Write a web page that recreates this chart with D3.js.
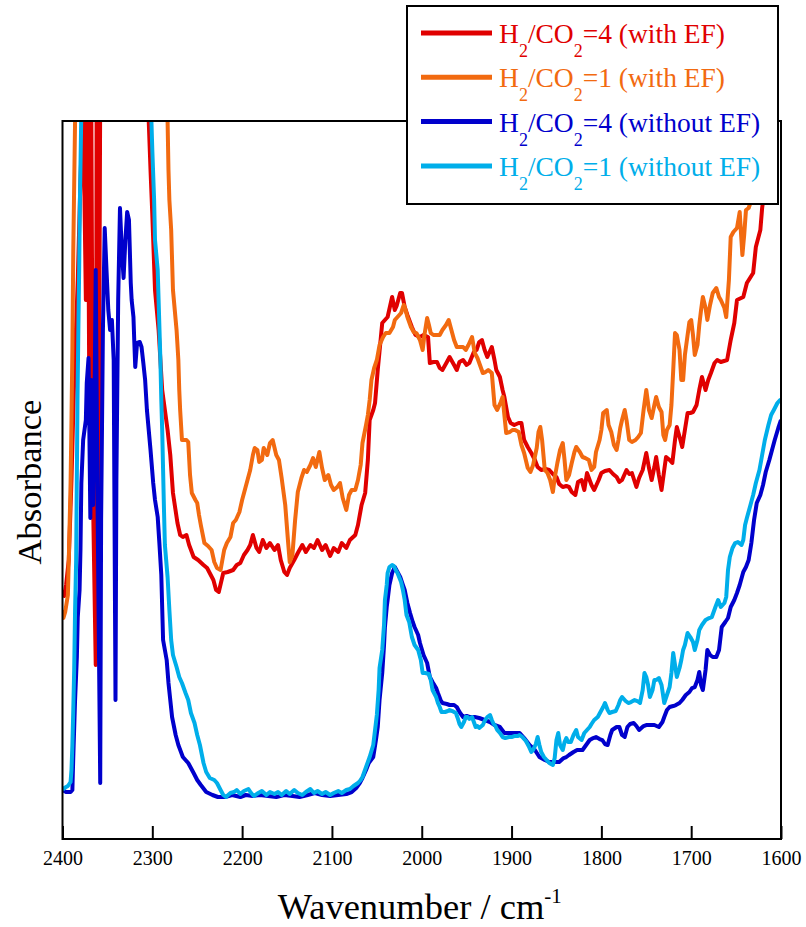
<!DOCTYPE html>
<html>
<head>
<meta charset="utf-8">
<script src="https://cdn.jsdelivr.net/npm/d3@7"></script>
<style>
  html, body { margin: 0; padding: 0; background: #fff; }
  svg { display: block; }
</style>
</head>
<body>
<div id="chart"></div>
<script>
// Wavenumber axis ticks (cm^-1), axis runs high to low
const wavenumberTicks = [2400, 2300, 2200, 2100, 2000, 1900, 1800, 1700, 1600];

// Series labels: ratio and condition
const seriesRatio = ["4", "1", "4", "1"];
const seriesCondition = ["(with EF)", "(with EF)", "(without EF)", "(without EF)"];
const seriesColors = ["#e00000", "#f26a10", "#0000cc", "#00aeea"];

// Spectra as [wavenumber, absorbance (a.u.)]
const specH4EF = [[2400,0.249],[2398,0.243],[2396,0.254],[2393,0.279],[2390,0.359],[2387,0.459],[2383,0.559],[2380,0.659],[2377,0.739],[2374,0.539],[2372,0.749],[2370,0.419],[2368,0.749],[2366,0.339],[2363,0.174],[2362,0.749],[2360,0.279],[2358,0.749],[2357,0.739],[2347,0.749],[2330,0.744],[2313,0.744],[2307,0.734],[2304,0.718],[2302,0.669],[2300,0.624],[2297,0.549],[2293,0.509],[2289,0.449],[2286,0.429],[2283,0.409],[2280,0.384],[2277,0.346],[2272,0.316],[2269,0.304],[2266,0.302],[2262,0.304],[2259,0.294],[2254,0.282],[2249,0.279],[2243,0.274],[2239,0.271],[2232,0.259],[2229,0.249],[2226,0.247],[2221,0.266],[2216,0.267],[2210,0.269],[2206,0.274],[2202,0.276],[2198,0.284],[2194,0.289],[2191,0.294],[2188,0.304],[2184,0.291],[2181,0.287],[2177,0.299],[2173,0.291],[2169,0.296],[2164,0.289],[2160,0.294],[2157,0.279],[2153,0.267],[2150,0.264],[2147,0.271],[2142,0.279],[2138,0.286],[2133,0.294],[2129,0.287],[2124,0.294],[2120,0.291],[2116,0.299],[2111,0.289],[2107,0.294],[2102,0.283],[2098,0.291],[2093,0.287],[2089,0.296],[2084,0.291],[2080,0.299],[2074,0.304],[2071,0.314],[2067,0.334],[2063,0.346],[2060,0.379],[2058,0.419],[2054,0.429],[2052,0.436],[2049,0.469],[2044,0.516],[2041,0.519],[2038,0.522],[2033,0.542],[2030,0.529],[2028,0.533],[2024,0.546],[2022,0.546],[2019,0.532],[2016,0.524],[2011,0.512],[2007,0.504],[2002,0.502],[1998,0.504],[1993,0.502],[1991,0.476],[1987,0.477],[1983,0.477],[1980,0.471],[1977,0.469],[1972,0.477],[1969,0.482],[1964,0.474],[1961,0.469],[1958,0.477],[1954,0.479],[1950,0.474],[1947,0.476],[1942,0.487],[1939,0.489],[1936,0.497],[1933,0.499],[1930,0.489],[1927,0.482],[1922,0.492],[1919,0.479],[1917,0.469],[1913,0.462],[1910,0.449],[1908,0.442],[1904,0.422],[1901,0.416],[1897,0.414],[1892,0.416],[1889,0.416],[1886,0.399],[1882,0.392],[1878,0.386],[1874,0.379],[1871,0.372],[1867,0.369],[1862,0.370],[1858,0.369],[1853,0.364],[1850,0.362],[1847,0.355],[1843,0.352],[1839,0.353],[1836,0.352],[1833,0.347],[1829,0.344],[1826,0.357],[1822,0.359],[1819,0.349],[1816,0.366],[1811,0.354],[1808,0.349],[1803,0.359],[1800,0.366],[1796,0.368],[1791,0.369],[1787,0.365],[1783,0.362],[1780,0.357],[1777,0.359],[1772,0.369],[1769,0.365],[1766,0.366],[1761,0.352],[1758,0.361],[1754,0.369],[1750,0.386],[1747,0.371],[1744,0.359],[1741,0.372],[1739,0.382],[1736,0.364],[1733,0.349],[1730,0.369],[1728,0.382],[1724,0.379],[1721,0.376],[1718,0.399],[1716,0.412],[1712,0.399],[1710,0.392],[1707,0.409],[1704,0.426],[1701,0.426],[1698,0.427],[1694,0.434],[1691,0.449],[1688,0.462],[1684,0.449],[1681,0.459],[1678,0.466],[1674,0.476],[1671,0.479],[1667,0.477],[1660,0.479],[1656,0.499],[1652,0.516],[1649,0.539],[1642,0.542],[1638,0.556],[1631,0.566],[1628,0.592],[1623,0.609],[1621,0.631],[1616,0.664],[1611,0.689],[1607,0.714],[1600,0.739]];

const specH1EF = [[2400,0.229],[2399,0.221],[2397,0.227],[2394,0.244],[2393,0.279],[2391,0.356],[2390,0.419],[2389,0.489],[2388,0.589],[2386,0.718],[2384,0.749],[2358,0.759],[2324,0.759],[2291,0.749],[2286,0.739],[2283,0.718],[2282,0.669],[2281,0.639],[2279,0.609],[2277,0.549],[2273,0.509],[2271,0.479],[2270,0.449],[2269,0.429],[2267,0.399],[2262,0.399],[2260,0.397],[2258,0.364],[2256,0.346],[2252,0.339],[2250,0.336],[2248,0.324],[2246,0.314],[2242,0.296],[2238,0.293],[2234,0.289],[2231,0.277],[2228,0.271],[2224,0.269],[2222,0.279],[2220,0.289],[2217,0.296],[2213,0.302],[2210,0.316],[2207,0.319],[2203,0.327],[2200,0.339],[2197,0.349],[2194,0.359],[2191,0.369],[2188,0.384],[2186,0.391],[2183,0.389],[2181,0.377],[2178,0.379],[2176,0.391],[2172,0.384],[2169,0.396],[2166,0.399],[2162,0.384],[2159,0.379],[2156,0.361],[2152,0.334],[2149,0.299],[2147,0.277],[2144,0.284],[2141,0.319],[2138,0.347],[2134,0.361],[2131,0.369],[2128,0.367],[2124,0.374],[2121,0.381],[2118,0.372],[2114,0.387],[2111,0.371],[2108,0.359],[2104,0.364],[2101,0.354],[2098,0.349],[2094,0.352],[2091,0.356],[2088,0.341],[2084,0.329],[2081,0.344],[2078,0.349],[2074,0.349],[2071,0.359],[2068,0.374],[2066,0.396],[2062,0.414],[2060,0.424],[2058,0.439],[2056,0.459],[2053,0.471],[2050,0.479],[2047,0.494],[2043,0.502],[2040,0.506],[2036,0.506],[2032,0.512],[2030,0.519],[2027,0.522],[2023,0.526],[2020,0.534],[2018,0.529],[2016,0.522],[2012,0.512],[2009,0.507],[2006,0.506],[2002,0.499],[1999,0.489],[1997,0.504],[1994,0.521],[1992,0.514],[1990,0.506],[1987,0.504],[1983,0.504],[1980,0.504],[1977,0.509],[1973,0.514],[1970,0.519],[1967,0.509],[1964,0.499],[1961,0.492],[1958,0.492],[1954,0.492],[1951,0.489],[1948,0.494],[1944,0.502],[1941,0.486],[1938,0.481],[1936,0.476],[1932,0.466],[1929,0.467],[1926,0.469],[1922,0.466],[1919,0.434],[1916,0.429],[1912,0.437],[1910,0.442],[1908,0.424],[1906,0.406],[1902,0.407],[1899,0.409],[1896,0.409],[1892,0.407],[1889,0.394],[1886,0.386],[1882,0.371],[1879,0.367],[1876,0.374],[1872,0.391],[1870,0.407],[1868,0.412],[1866,0.399],[1863,0.369],[1860,0.366],[1857,0.359],[1854,0.347],[1852,0.361],[1849,0.376],[1846,0.389],[1843,0.396],[1841,0.379],[1839,0.359],[1836,0.364],[1833,0.376],[1830,0.387],[1828,0.392],[1824,0.387],[1821,0.382],[1818,0.381],[1814,0.379],[1811,0.369],[1808,0.372],[1806,0.387],[1802,0.399],[1800,0.409],[1798,0.426],[1794,0.429],[1792,0.414],[1789,0.407],[1786,0.394],[1783,0.389],[1781,0.399],[1779,0.411],[1777,0.419],[1774,0.429],[1772,0.419],[1769,0.399],[1766,0.397],[1762,0.399],[1759,0.402],[1756,0.406],[1753,0.429],[1750,0.449],[1747,0.429],[1744,0.421],[1741,0.434],[1739,0.442],[1736,0.432],[1733,0.427],[1731,0.404],[1729,0.399],[1727,0.409],[1724,0.414],[1722,0.434],[1720,0.469],[1718,0.506],[1716,0.504],[1713,0.489],[1711,0.459],[1709,0.459],[1707,0.484],[1704,0.504],[1702,0.517],[1700,0.519],[1698,0.504],[1696,0.484],[1693,0.494],[1691,0.514],[1689,0.529],[1687,0.542],[1684,0.531],[1682,0.519],[1679,0.534],[1676,0.546],[1672,0.551],[1669,0.542],[1667,0.539],[1663,0.531],[1661,0.522],[1658,0.559],[1656,0.602],[1653,0.607],[1649,0.611],[1646,0.627],[1643,0.584],[1641,0.604],[1639,0.629],[1636,0.631],[1633,0.639],[1630,0.649],[1624,0.669],[1619,0.689],[1613,0.709],[1608,0.729],[1600,0.744]];

const specH4 = [[2400,0.049],[2396,0.047],[2391,0.047],[2389,0.049],[2388,0.082],[2386,0.139],[2384,0.182],[2383,0.222],[2381,0.249],[2380,0.289],[2379,0.356],[2377,0.399],[2374,0.419],[2373,0.456],[2371,0.481],[2369,0.321],[2368,0.459],[2366,0.334],[2364,0.469],[2363,0.569],[2361,0.339],[2358,0.056],[2357,0.319],[2355,0.509],[2353,0.611],[2351,0.569],[2349,0.529],[2347,0.509],[2345,0.519],[2343,0.479],[2341,0.139],[2340,0.359],[2338,0.539],[2336,0.631],[2334,0.589],[2332,0.561],[2330,0.599],[2328,0.627],[2326,0.619],[2324,0.556],[2323,0.539],[2321,0.522],[2320,0.496],[2319,0.472],[2317,0.496],[2314,0.497],[2312,0.492],[2310,0.476],[2308,0.459],[2306,0.429],[2302,0.389],[2299,0.356],[2297,0.339],[2294,0.322],[2292,0.294],[2290,0.264],[2288,0.199],[2284,0.179],[2282,0.156],[2280,0.139],[2278,0.122],[2274,0.104],[2271,0.094],[2266,0.082],[2260,0.076],[2254,0.066],[2250,0.059],[2246,0.054],[2240,0.047],[2233,0.044],[2227,0.042],[2219,0.042],[2211,0.044],[2202,0.042],[2196,0.044],[2188,0.043],[2180,0.044],[2171,0.043],[2162,0.042],[2153,0.044],[2144,0.043],[2136,0.042],[2127,0.044],[2119,0.046],[2111,0.044],[2102,0.043],[2093,0.044],[2084,0.045],[2078,0.047],[2073,0.051],[2069,0.056],[2066,0.061],[2062,0.069],[2059,0.076],[2054,0.082],[2051,0.099],[2049,0.112],[2047,0.139],[2044,0.166],[2042,0.194],[2041,0.212],[2039,0.232],[2038,0.239],[2036,0.254],[2033,0.266],[2030,0.272],[2027,0.267],[2024,0.262],[2021,0.254],[2019,0.249],[2016,0.236],[2013,0.226],[2010,0.217],[2008,0.212],[2004,0.204],[2002,0.196],[1998,0.184],[1994,0.176],[1991,0.162],[1988,0.157],[1984,0.151],[1982,0.146],[1979,0.139],[1977,0.136],[1972,0.135],[1969,0.134],[1964,0.134],[1961,0.132],[1958,0.127],[1954,0.122],[1950,0.123],[1947,0.122],[1941,0.122],[1936,0.121],[1930,0.119],[1924,0.117],[1919,0.114],[1913,0.112],[1908,0.106],[1902,0.106],[1897,0.106],[1891,0.106],[1886,0.101],[1880,0.094],[1874,0.089],[1869,0.082],[1863,0.079],[1858,0.077],[1852,0.077],[1847,0.077],[1842,0.081],[1839,0.082],[1836,0.084],[1831,0.087],[1827,0.089],[1821,0.089],[1817,0.094],[1813,0.099],[1809,0.101],[1806,0.102],[1802,0.100],[1799,0.099],[1796,0.095],[1793,0.094],[1790,0.104],[1788,0.109],[1783,0.112],[1780,0.112],[1777,0.104],[1774,0.102],[1771,0.112],[1768,0.115],[1764,0.116],[1761,0.113],[1758,0.109],[1753,0.113],[1750,0.114],[1746,0.114],[1741,0.114],[1736,0.112],[1732,0.117],[1730,0.122],[1727,0.129],[1724,0.132],[1720,0.133],[1717,0.134],[1713,0.136],[1710,0.139],[1706,0.144],[1702,0.147],[1699,0.151],[1696,0.152],[1693,0.159],[1691,0.167],[1689,0.154],[1687,0.149],[1684,0.169],[1682,0.189],[1679,0.184],[1676,0.182],[1672,0.182],[1669,0.189],[1666,0.212],[1662,0.217],[1659,0.221],[1656,0.232],[1652,0.239],[1649,0.246],[1646,0.254],[1642,0.267],[1639,0.272],[1636,0.279],[1633,0.296],[1630,0.319],[1627,0.336],[1623,0.344],[1620,0.354],[1617,0.367],[1613,0.379],[1610,0.389],[1607,0.399],[1603,0.411],[1600,0.419]];

const specH1 = [[2400,0.049],[2398,0.051],[2394,0.053],[2391,0.057],[2390,0.069],[2389,0.094],[2388,0.129],[2387,0.169],[2386,0.229],[2384.8,0.279],[2384.1,0.356],[2383.3,0.439],[2382.2,0.519],[2381.4,0.572],[2380.6,0.639],[2379.2,0.718],[2378.3,0.749],[2358,0.759],[2324,0.754],[2304,0.744],[2301,0.718],[2300,0.689],[2298,0.639],[2297,0.599],[2294,0.569],[2293,0.539],[2292,0.509],[2291,0.479],[2290,0.439],[2289,0.409],[2288,0.369],[2287,0.329],[2286,0.294],[2283,0.262],[2281,0.229],[2279,0.199],[2277,0.184],[2273,0.172],[2270,0.162],[2267,0.156],[2263,0.146],[2260,0.139],[2257,0.126],[2253,0.116],[2250,0.104],[2247,0.094],[2243,0.076],[2240,0.067],[2236,0.061],[2231,0.059],[2228,0.056],[2224,0.049],[2221,0.044],[2218,0.042],[2213,0.046],[2209,0.047],[2206,0.049],[2202,0.045],[2198,0.048],[2193,0.050],[2190,0.046],[2187,0.043],[2182,0.046],[2178,0.048],[2173,0.044],[2169,0.047],[2164,0.045],[2160,0.047],[2156,0.044],[2151,0.048],[2147,0.045],[2142,0.049],[2138,0.046],[2133,0.044],[2129,0.047],[2124,0.050],[2120,0.046],[2116,0.048],[2111,0.045],[2107,0.047],[2102,0.044],[2098,0.046],[2093,0.048],[2089,0.046],[2084,0.049],[2080,0.050],[2076,0.053],[2071,0.056],[2068,0.059],[2066,0.062],[2062,0.072],[2058,0.082],[2054,0.094],[2052,0.109],[2050,0.124],[2048,0.149],[2047,0.171],[2044,0.189],[2042,0.214],[2041,0.239],[2039,0.254],[2038,0.266],[2036,0.272],[2033,0.274],[2031,0.273],[2029,0.269],[2027,0.266],[2023,0.257],[2021,0.249],[2019,0.239],[2017,0.224],[2014,0.217],[2011,0.202],[2008,0.194],[2004,0.189],[2001,0.179],[1999,0.166],[1996,0.166],[1992,0.165],[1990,0.159],[1988,0.149],[1984,0.142],[1982,0.136],[1980,0.132],[1978,0.127],[1974,0.127],[1971,0.128],[1969,0.129],[1966,0.128],[1962,0.126],[1960,0.121],[1958,0.115],[1956,0.112],[1953,0.117],[1951,0.122],[1949,0.122],[1947,0.120],[1944,0.122],[1942,0.117],[1940,0.112],[1938,0.113],[1936,0.111],[1932,0.114],[1930,0.118],[1927,0.122],[1924,0.124],[1922,0.119],[1920,0.115],[1918,0.113],[1916,0.109],[1913,0.106],[1910,0.102],[1907,0.101],[1903,0.102],[1900,0.102],[1897,0.103],[1893,0.103],[1891,0.104],[1888,0.102],[1884,0.098],[1881,0.093],[1878,0.087],[1876,0.089],[1873,0.095],[1871,0.102],[1869,0.094],[1867,0.087],[1864,0.082],[1861,0.079],[1858,0.076],[1854,0.074],[1852,0.081],[1850,0.099],[1848,0.106],[1846,0.094],[1843,0.089],[1841,0.097],[1839,0.101],[1837,0.097],[1834,0.097],[1831,0.104],[1828,0.109],[1826,0.102],[1822,0.099],[1819,0.106],[1816,0.109],[1813,0.112],[1811,0.115],[1808,0.119],[1804,0.122],[1801,0.127],[1798,0.132],[1796,0.136],[1793,0.129],[1791,0.126],[1788,0.127],[1784,0.128],[1781,0.134],[1779,0.139],[1777,0.142],[1773,0.138],[1770,0.136],[1767,0.137],[1763,0.139],[1760,0.138],[1757,0.136],[1754,0.149],[1752,0.166],[1750,0.162],[1748,0.154],[1746,0.142],[1743,0.149],[1741,0.159],[1739,0.159],[1736,0.161],[1733,0.154],[1730,0.136],[1727,0.144],[1724,0.152],[1722,0.166],[1720,0.186],[1718,0.174],[1716,0.162],[1713,0.171],[1711,0.179],[1709,0.189],[1707,0.194],[1704,0.206],[1701,0.202],[1698,0.197],[1696,0.189],[1693,0.199],[1691,0.209],[1688,0.214],[1684,0.219],[1680,0.221],[1677,0.222],[1673,0.232],[1670,0.239],[1667,0.232],[1663,0.236],[1661,0.242],[1659,0.269],[1657,0.282],[1654,0.291],[1651,0.296],[1648,0.297],[1644,0.294],[1642,0.299],[1640,0.314],[1638,0.321],[1634,0.334],[1631,0.344],[1628,0.356],[1624,0.369],[1621,0.384],[1618,0.399],[1614,0.414],[1611,0.424],[1608,0.429],[1604,0.436],[1601,0.439],[1600,0.439]];

const spectra = [specH4EF, specH1EF, specH4, specH1];

// ---- layout ----
const W = 806, H = 927;
const plot = { left: 62.5, right: 781, top: 121, bottom: 839 };
const serif = "'Liberation Serif', 'Times New Roman', Times, serif";

const svg = d3.select("#chart").append("svg")
  .attr("width", W).attr("height", H)
  .attr("viewBox", `0 0 ${W} ${H}`);

const x = d3.scaleLinear().domain([2400, 1600]).range([plot.left, plot.right]);
const y = d3.scaleLinear().domain([0, 0.718]).range([plot.bottom, plot.top]);

svg.append("defs").append("clipPath").attr("id", "plot-clip")
  .append("rect")
  .attr("x", plot.left).attr("y", plot.top)
  .attr("width", plot.right - plot.left).attr("height", plot.bottom - plot.top);

// spectra
const line = d3.line().x(d => x(d[0])).y(d => y(d[1]));
svg.append("g").attr("clip-path", "url(#plot-clip)")
  .selectAll("path").data(spectra).join("path")
  .attr("d", line)
  .attr("fill", "none")
  .attr("stroke", (d, i) => seriesColors[i])
  .attr("stroke-width", 4)
  .attr("stroke-linejoin", "round")
  .attr("stroke-linecap", "butt");

// frame
svg.append("rect")
  .attr("x", plot.left).attr("y", plot.top)
  .attr("width", plot.right - plot.left).attr("height", plot.bottom - plot.top)
  .attr("fill", "none").attr("stroke", "#000").attr("stroke-width", 2);

// bottom axis, ticks pointing inward
const xAxis = d3.axisBottom(x).tickValues(wavenumberTicks)
  .tickSize(-13).tickSizeOuter(0).tickPadding(12).tickFormat(d3.format("d"));
const gx = svg.append("g").attr("transform", `translate(0,${plot.bottom})`).call(xAxis);
gx.select(".domain").remove();
gx.selectAll(".tick line").attr("stroke", "#000").attr("stroke-width", 2);
gx.selectAll(".tick text")
  .attr("font-family", serif).attr("font-size", 20).attr("fill", "#000");

// axis titles
const xt = svg.append("text")
  .attr("x", (plot.left + plot.right) / 2 - 2).attr("y", 919)
  .attr("text-anchor", "middle")
  .attr("font-family", serif).attr("font-size", 36.5).attr("fill", "#000");
xt.append("tspan").text("Wavenumber / cm");
xt.append("tspan").attr("font-size", 21).attr("dy", -16).text("-1");

svg.append("text")
  .attr("transform", `translate(41,${(plot.top + plot.bottom) / 2 + 2}) rotate(-90)`)
  .attr("text-anchor", "middle")
  .attr("font-family", serif).attr("font-size", 34.5).attr("fill", "#000")
  .text("Absorbance");

// legend
const lg = svg.append("g");
lg.append("rect")
  .attr("x", 407).attr("y", 6).attr("width", 371).attr("height", 198)
  .attr("fill", "#fff").attr("stroke", "#000").attr("stroke-width", 2);

seriesColors.forEach((c, i) => {
  const cy = 33 + i * 44.3;
  lg.append("line")
    .attr("x1", 421).attr("x2", 492).attr("y1", cy).attr("y2", cy)
    .attr("stroke", c).attr("stroke-width", 5);
  const t = lg.append("text")
    .attr("x", 499).attr("y", cy + 10)
    .attr("font-family", serif).attr("font-size", 27.5).attr("fill", c);
  t.append("tspan").text("H");
  t.append("tspan").attr("font-size", 18).attr("dy", 14).text("2");
  t.append("tspan").attr("dy", -14).text("/CO");
  t.append("tspan").attr("font-size", 18).attr("dy", 14).text("2");
  t.append("tspan").attr("dy", -14).text(`=${seriesRatio[i]} ${seriesCondition[i]}`);
});
</script>
</body>
</html>
